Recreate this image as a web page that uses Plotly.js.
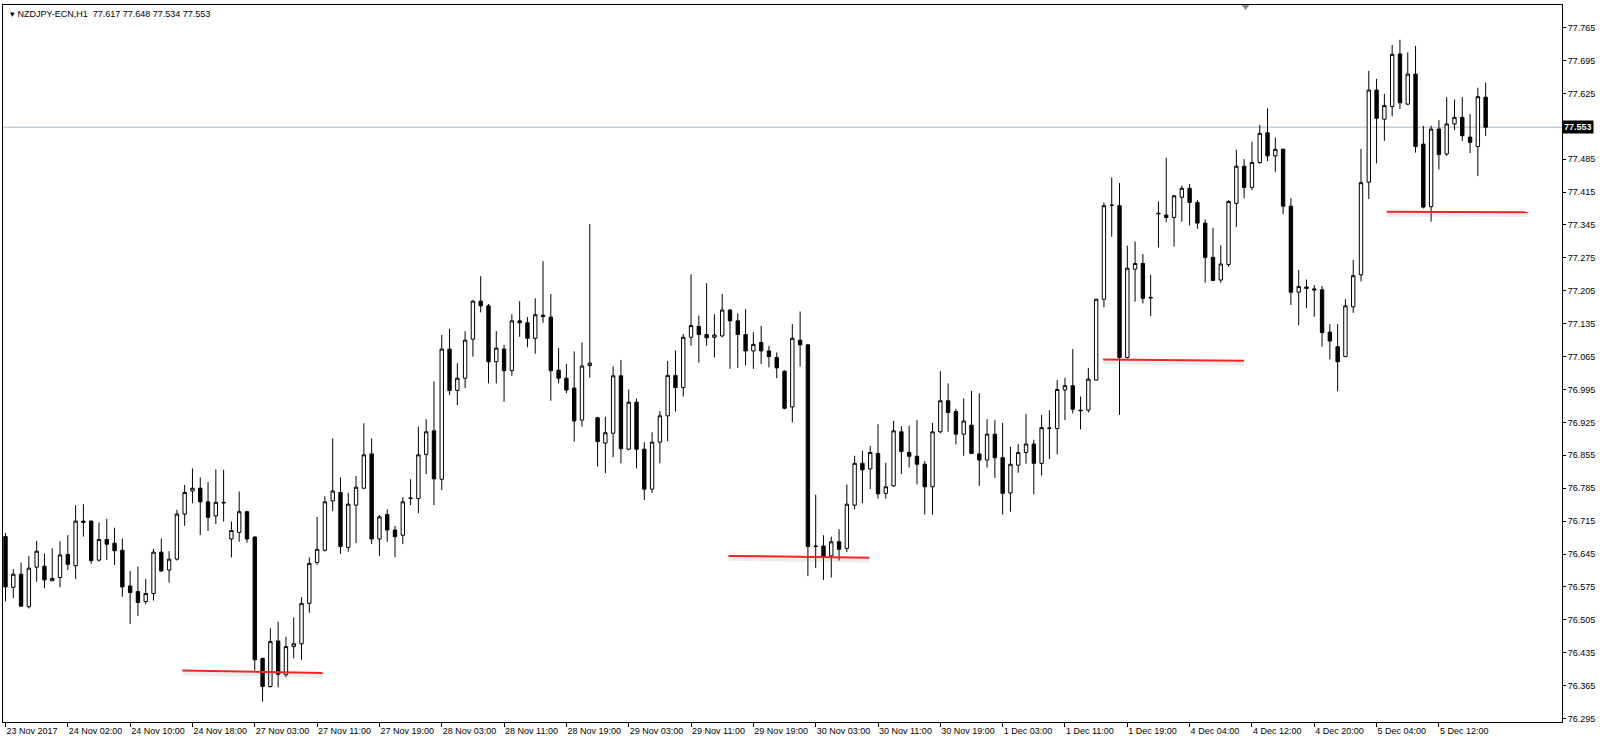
<!DOCTYPE html>
<html>
<head>
<meta charset="utf-8">
<script src="https://cdn.plot.ly/plotly-3.0.1.min.js"></script>
<style>
  html, body { margin: 0; padding: 0; background: #ffffff; }
  #chart { width: 1600px; height: 744px; }
</style>
</head>
<body>
<div id="chart"></div>
<script>
// ---- data (NZDJPY-ECN, H1) ----
const tickLabels = ["23 Nov 2017","24 Nov 02:00","24 Nov 10:00","24 Nov 18:00","27 Nov 03:00","27 Nov 11:00","27 Nov 19:00","28 Nov 03:00","28 Nov 11:00","28 Nov 19:00","29 Nov 03:00","29 Nov 11:00","29 Nov 19:00","30 Nov 03:00","30 Nov 11:00","30 Nov 19:00","1 Dec 03:00","1 Dec 11:00","1 Dec 19:00","4 Dec 04:00","4 Dec 12:00","4 Dec 20:00","5 Dec 04:00","5 Dec 12:00"];

const openP = [
76.682,76.574,76.602,76.533,76.617,76.619,76.588,76.595,76.644,76.620,
76.715,76.715,76.632,76.676,76.668,76.653,76.577,76.565,76.544,76.561,
76.649,76.611,76.634,76.730,76.779,76.785,76.756,76.726,76.755,76.677,
76.691,76.735,76.681,76.423,76.363,76.460,76.388,76.448,76.454,76.540,
76.627,76.653,76.758,76.776,76.659,76.749,76.785,76.858,76.677,76.729,
76.696,76.685,76.763,76.763,76.857,76.907,76.804,77.081,76.993,77.019,
77.102,77.183,77.173,77.054,77.081,77.035,77.141,77.137,77.104,77.150,
77.149,77.036,77.019,76.998,76.930,77.046,76.935,76.881,76.902,77.024,
76.868,76.968,76.868,76.783,76.883,76.939,77.025,76.999,77.106,77.129,
77.112,77.106,77.109,77.164,77.141,77.112,77.077,77.095,77.077,77.063,
77.034,76.958,77.100,77.090,76.662,76.662,76.641,76.671,76.657,76.749,
76.838,76.826,76.859,76.774,76.790,76.905,76.861,76.853,76.836,76.788,
76.905,76.971,76.948,76.900,76.919,76.858,76.845,76.900,76.850,76.775,
76.834,76.861,76.879,76.838,76.912,76.912,76.994,77.003,76.951,76.951,
77.015,77.187,77.387,77.386,77.063,77.251,77.263,77.191,77.370,77.366,
77.361,77.404,77.423,77.393,77.349,77.276,77.228,77.261,77.391,77.470,
77.425,77.478,77.541,77.492,77.506,77.385,77.202,77.213,77.209,77.207,
77.117,77.086,77.065,77.171,77.239,77.436,77.632,77.570,77.597,77.709,
77.602,77.666,77.517,77.384,77.549,77.496,77.560,77.574,77.532,77.512,
77.617];

const highP = [
76.690,76.613,76.627,76.641,76.673,76.646,76.657,76.672,76.685,76.749,
76.751,76.716,76.712,76.720,76.701,76.678,76.609,76.618,76.592,76.656,
76.678,76.651,76.739,76.792,76.827,76.808,76.798,76.825,76.824,76.714,
76.778,76.737,76.683,76.424,76.487,76.501,76.469,76.510,76.553,76.638,
76.724,76.768,76.891,76.808,76.775,76.811,76.923,76.891,76.728,76.740,
76.705,76.766,76.804,76.916,76.932,77.012,77.111,77.124,77.051,77.119,
77.185,77.236,77.177,77.119,77.090,77.155,77.183,77.149,77.189,77.268,
77.198,77.083,77.049,77.076,77.095,77.347,76.937,76.937,77.044,77.058,
76.995,76.976,76.883,76.904,76.949,77.056,77.078,77.113,77.240,77.152,
77.221,77.155,77.198,77.166,77.157,77.166,77.117,77.130,77.088,77.074,
77.036,77.134,77.161,77.091,76.771,76.685,76.682,76.698,76.793,76.854,
76.865,76.875,76.921,76.839,76.928,76.917,76.918,76.930,76.843,76.924,
77.034,77.008,76.954,76.976,76.992,76.987,76.932,76.930,76.924,76.873,
76.879,76.943,76.888,76.941,76.951,77.015,77.020,77.081,76.980,77.041,
77.188,77.393,77.446,77.434,77.301,77.310,77.283,77.239,77.395,77.488,
77.409,77.429,77.432,77.398,77.357,77.339,77.302,77.398,77.505,77.485,
77.522,77.558,77.593,77.531,77.508,77.402,77.249,77.229,77.217,77.215,
77.134,77.134,77.187,77.271,77.507,77.673,77.656,77.624,77.728,77.739,
77.712,77.726,77.556,77.556,77.568,77.617,77.612,77.617,77.581,77.637,
77.648];

const lowP = [
76.544,76.551,76.533,76.529,76.586,76.572,76.588,76.574,76.611,76.592,
76.682,76.624,76.629,76.632,76.622,76.554,76.496,76.513,76.538,76.546,
76.607,76.584,76.631,76.705,76.753,76.685,76.694,76.709,76.714,76.638,
76.671,76.669,76.397,76.331,76.361,76.361,76.383,76.423,76.420,76.520,
76.622,76.650,76.736,76.645,76.650,76.668,76.783,76.666,76.641,76.671,
76.638,76.666,76.749,76.732,76.815,76.749,76.781,76.983,76.962,76.998,
77.065,77.159,77.008,77.008,76.969,77.024,77.107,77.085,77.071,77.137,
76.971,77.008,76.987,76.884,76.916,77.020,76.831,76.817,76.851,76.838,
76.866,76.827,76.760,76.775,76.838,76.885,76.948,76.980,77.088,77.052,
77.088,77.063,77.106,77.039,77.041,77.046,77.039,77.049,77.042,77.019,
76.953,76.925,77.044,76.598,76.615,76.590,76.595,76.631,76.649,76.740,
76.753,76.783,76.763,76.763,76.788,76.815,76.829,76.793,76.729,76.729,
76.902,76.905,76.878,76.854,76.858,76.790,76.829,76.807,76.729,76.735,
76.818,76.837,76.772,76.812,76.847,76.857,76.930,76.944,76.910,76.946,
77.014,77.170,77.320,76.941,77.061,77.182,77.178,77.151,77.297,77.351,
77.299,77.352,77.344,77.337,77.222,77.226,77.222,77.256,77.341,77.402,
77.419,77.475,77.481,77.458,77.368,77.175,77.132,77.168,77.150,77.086,
77.059,76.991,77.064,77.158,77.225,77.400,77.476,77.524,77.576,77.592,
77.600,77.499,77.380,77.352,77.463,77.492,77.547,77.524,77.498,77.449,
77.534];

const closeP = [
76.575,76.602,76.534,76.615,76.651,76.590,76.593,76.643,76.623,76.715,
76.712,76.631,76.676,76.666,76.652,76.575,76.563,76.542,76.561,76.649,
76.609,76.634,76.730,76.776,76.785,76.756,76.723,76.755,76.754,76.695,
76.735,76.677,76.420,76.363,76.459,76.389,76.448,76.454,76.540,76.625,
76.655,76.756,76.779,76.661,76.751,76.787,76.856,76.677,76.724,76.696,
76.682,76.756,76.764,76.856,76.905,76.805,77.081,76.993,77.019,77.100,
77.183,77.173,77.054,77.083,77.035,77.141,77.137,77.104,77.154,77.153,
77.035,77.019,76.994,76.928,77.045,77.051,76.884,76.903,77.024,76.869,
76.968,76.868,76.783,76.883,76.939,77.025,76.999,77.106,77.131,77.112,
77.105,77.111,77.164,77.141,77.112,77.077,77.091,77.077,77.065,77.041,
76.955,77.104,77.090,76.661,76.661,76.639,76.671,76.655,76.751,76.838,
76.824,76.861,76.773,76.788,76.907,76.863,76.853,76.836,76.788,76.905,
76.971,76.946,76.900,76.928,76.859,76.845,76.900,76.850,76.774,76.836,
76.861,76.879,76.838,76.914,76.913,76.995,77.003,76.953,76.950,77.017,
77.187,77.386,77.387,77.063,77.253,77.263,77.189,77.190,77.369,77.361,
77.407,77.423,77.393,77.349,77.276,77.227,77.262,77.395,77.470,77.425,
77.478,77.540,77.492,77.506,77.385,77.202,77.214,77.210,77.207,77.116,
77.098,77.054,77.173,77.237,77.435,77.632,77.572,77.599,77.708,77.605,
77.666,77.512,77.383,77.549,77.495,77.560,77.574,77.535,77.521,77.618,
77.553];

const yTickLabels = ["77.765","77.695","77.625","77.485","77.415","77.345","77.275","77.205","77.135","77.065","76.995","76.925","76.855","76.785","76.715","76.645","76.575","76.505","76.435","76.365","76.295"];

const bidPrice = 77.553;
const bidLabel = "77.553";
const chartTitle = "NZDJPY-ECN,H1\u00a0\u00a077.617 77.648 77.534 77.553";

// hand-drawn support lines (bar position / price at each end)
const levelStartBar = [22.7, 92.8, 140.9, 177.3];
const levelEndBar = [40.7, 110.9, 159.0, 195.4];
const levelStartPrice = [76.397, 76.641, 77.059, 77.373];
const levelEndPrice = [76.392, 76.637, 77.056, 77.372];

// ---- build ----
const xIdx = openP.map((_, i) => i);
const FONT = "Liberation Sans, Arial, sans-serif";

const trace = {
  type: "candlestick",
  x: xIdx,
  open: openP, high: highP, low: lowP, close: closeP,
  increasing: { line: { color: "#000000", width: 1 }, fillcolor: "#ffffff" },
  decreasing: { line: { color: "#000000", width: 1 }, fillcolor: "#000000" },
  whiskerwidth: 0,
  hoverinfo: "skip",
  showlegend: false
};

const shapes = [];
// bid line
shapes.push({ type: "line", xref: "paper", x0: 0, x1: 1, yref: "y", y0: bidPrice, y1: bidPrice,
  line: { color: "#a9b7c4", width: 1 }, layer: "below" });
// support lines with soft shadow
levelStartBar.forEach((b, k) => {
  shapes.push({ type: "line", xref: "x", yref: "y",
    x0: b, x1: levelEndBar[k], y0: levelStartPrice[k] - 0.006, y1: levelEndPrice[k] - 0.006,
    line: { color: "rgba(120,120,120,0.14)", width: 4 } });
  shapes.push({ type: "line", xref: "x", yref: "y",
    x0: b, x1: levelEndBar[k], y0: levelStartPrice[k], y1: levelEndPrice[k],
    line: { color: "#f22424", width: 2 } });
});
// chart-shift marker at top
shapes.push({ type: "path", xref: "paper", yref: "paper", xsizemode: "pixel", ysizemode: "pixel",
  xanchor: 0.797, yanchor: 1, path: "M -4 0 L 4 0 L 0 -5 Z",
  fillcolor: "#8a8a8a", line: { width: 0 } });
// light window strip along the bottom
shapes.push({ type: "rect", xref: "paper", yref: "paper", x0: -0.01, x1: 1.03, y0: -0.032, y1: -0.045,
  yanchor: 0, fillcolor: "#f0f0f0", line: { width: 0 }, layer: "below" });

const annotations = [
  { xref: "paper", yref: "paper", x: 0, y: 1, xanchor: "left", yanchor: "top", xshift: 5, yshift: -2,
    text: "\u25BE " + chartTitle, showarrow: false, font: { family: FONT, size: 9, color: "#000" } },
  { xref: "paper", yref: "y", x: 1, y: bidPrice, xanchor: "left", yanchor: "middle", xshift: 0,
    text: "<b>" + bidLabel + "</b>", showarrow: false, bgcolor: "#000000", borderpad: 1,
    font: { family: FONT, size: 9, color: "#ffffff" } }
];

const layout = {
  width: 1600, height: 744,
  margin: { l: 3, r: 38, t: 5, b: 22, pad: 0 },
  paper_bgcolor: "#ffffff", plot_bgcolor: "#ffffff",
  boxgap: 0.38,
  hovermode: false,
  showlegend: false,
  xaxis: {
    type: "linear",
    range: [-0.32, 199.8],
    tickvals: tickLabels.map((_, k) => 8 * k),
    ticktext: tickLabels,
    tickangle: 0,
    ticks: "outside", ticklen: 4, tickcolor: "#000", tickwidth: 1,
    ticklabelposition: "outside right",
    tickfont: { family: FONT, size: 9, color: "#000" },
    showgrid: false, zeroline: false,
    showline: true, mirror: true, linecolor: "#000", linewidth: 1,
    rangeslider: { visible: false },
    automargin: false,
    fixedrange: true
  },
  yaxis: {
    side: "right",
    range: [76.2876, 77.813],
    tickvals: yTickLabels.map(Number),
    ticktext: yTickLabels,
    ticks: "outside", ticklen: 3, tickcolor: "#000", tickwidth: 1,
    tickfont: { family: FONT, size: 9, color: "#000" },
    showgrid: false, zeroline: false,
    showline: true, mirror: true, linecolor: "#000", linewidth: 1,
    automargin: false,
    fixedrange: true
  },
  shapes: shapes,
  annotations: annotations
};

Plotly.newPlot("chart", [trace], layout, { displayModeBar: false, staticPlot: true });
</script>
</body>
</html>
